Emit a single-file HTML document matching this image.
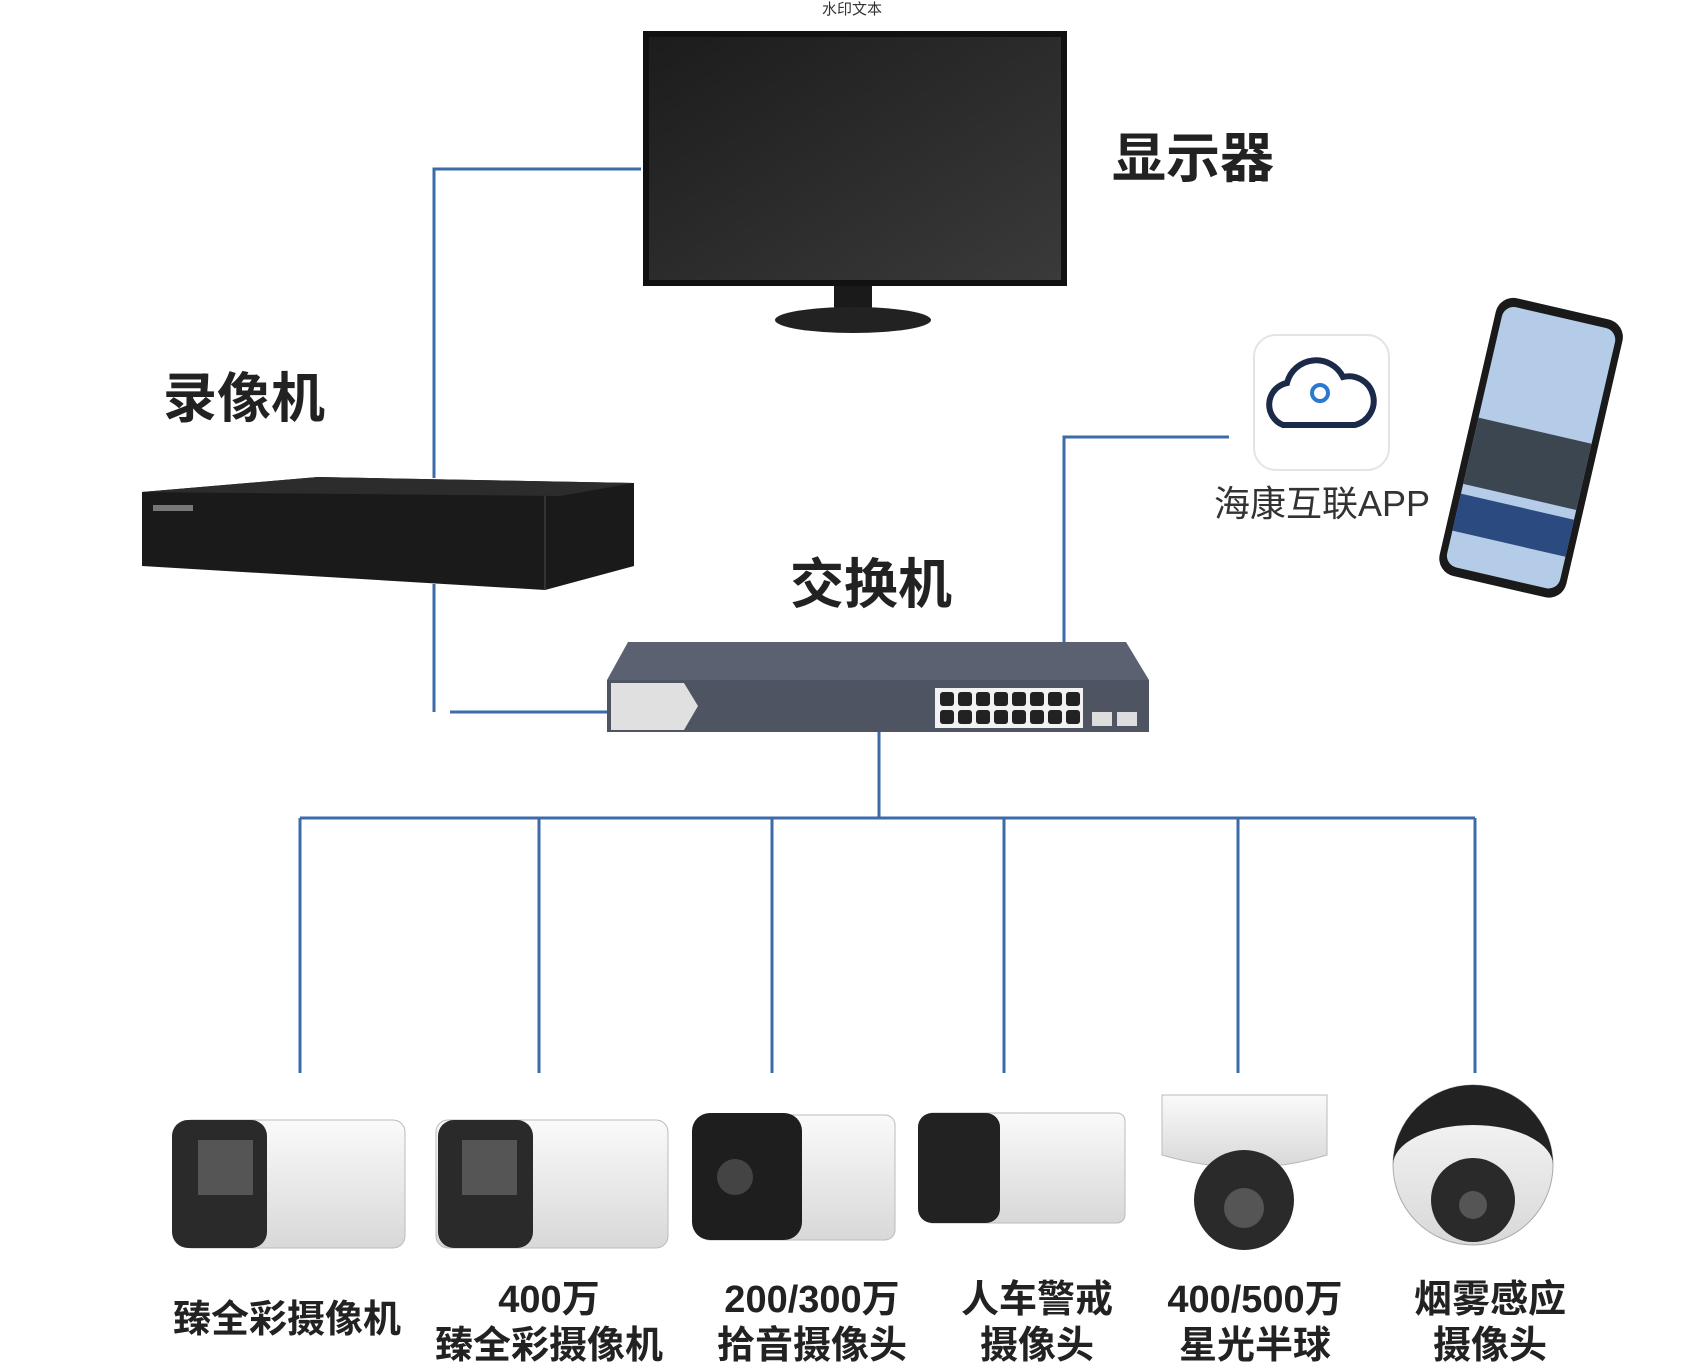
<!DOCTYPE html>
<html><head><meta charset="utf-8"><style>
body{margin:0;width:1704px;height:1371px;background:#fff;overflow:hidden;position:relative;font-family:"Liberation Sans","Noto Sans CJK SC",sans-serif}
.t{position:absolute;font-weight:bold;color:#222;white-space:nowrap;line-height:1}
.c{position:absolute;text-align:center;font-weight:bold;color:#222;font-size:38px;line-height:46px;transform:translateX(-50%);white-space:nowrap}
</style></head><body>
<svg width="1704" height="1371" style="position:absolute;left:0;top:0">
<defs>
<linearGradient id="mon" x1="0" y1="0" x2="1" y2="1"><stop offset="0" stop-color="#1c1c1c"/><stop offset="1" stop-color="#3a3a3a"/></linearGradient>
<linearGradient id="cam" x1="0" y1="0" x2="0" y2="1"><stop offset="0" stop-color="#fafafa"/><stop offset="1" stop-color="#d8d8d8"/></linearGradient>
</defs>
<g stroke="#3d6aa8" stroke-width="3" fill="none">
<polyline points="641,169 434,169 434,478"/>
<polyline points="434,584 434,712"/>
<line x1="450" y1="712" x2="608" y2="712"/>
<polyline points="1064,642 1064,437 1229,437"/>
<line x1="879" y1="732" x2="879" y2="818"/>
<line x1="300" y1="818" x2="1475" y2="818"/>
<line x1="300" y1="818" x2="300" y2="1073"/>
<line x1="539" y1="818" x2="539" y2="1073"/>
<line x1="772" y1="818" x2="772" y2="1073"/>
<line x1="1004" y1="818" x2="1004" y2="1073"/>
<line x1="1238" y1="818" x2="1238" y2="1073"/>
<line x1="1475" y1="818" x2="1475" y2="1073"/>
</g>
<!-- monitor -->
<rect x="643" y="31" width="424" height="255" fill="#111"/>
<rect x="649" y="37" width="412" height="243" fill="url(#mon)"/>
<rect x="834" y="286" width="38" height="24" fill="#1a1a1a"/>
<ellipse cx="853" cy="320" rx="78" ry="13" fill="#222"/>
<!-- recorder -->
<polygon points="142,492 318,477 634,483 634,566 545,590 142,566" fill="#1a1a1a"/>
<polygon points="142,492 318,477 634,483 560,496" fill="#2c2c2c"/>
<line x1="545" y1="496" x2="545" y2="590" stroke="#333" stroke-width="2"/>
<rect x="153" y="505" width="40" height="6" fill="#777"/>
<!-- switch -->
<polygon points="628,642 1126,642 1149,680 607,680" fill="#5b6170"/>
<rect x="607" y="680" width="542" height="52" fill="#4e5462"/>
<polygon points="611,683 684,683 698,706 684,730 611,730" fill="#e0e0e0"/>
<rect x="935" y="688" width="148" height="40" fill="#f2f2f2"/>
<g fill="#222">
<rect x="940" y="692" width="14" height="14" rx="3"/><rect x="958" y="692" width="14" height="14" rx="3"/><rect x="976" y="692" width="14" height="14" rx="3"/><rect x="994" y="692" width="14" height="14" rx="3"/><rect x="1012" y="692" width="14" height="14" rx="3"/><rect x="1030" y="692" width="14" height="14" rx="3"/><rect x="1048" y="692" width="14" height="14" rx="3"/><rect x="1066" y="692" width="14" height="14" rx="3"/>
<rect x="940" y="710" width="14" height="14" rx="3"/><rect x="958" y="710" width="14" height="14" rx="3"/><rect x="976" y="710" width="14" height="14" rx="3"/><rect x="994" y="710" width="14" height="14" rx="3"/><rect x="1012" y="710" width="14" height="14" rx="3"/><rect x="1030" y="710" width="14" height="14" rx="3"/><rect x="1048" y="710" width="14" height="14" rx="3"/><rect x="1066" y="710" width="14" height="14" rx="3"/>
</g>
<rect x="1092" y="712" width="20" height="14" fill="#ddd"/><rect x="1117" y="712" width="20" height="14" fill="#ddd"/>
<!-- app icon -->
<rect x="1254" y="335" width="135" height="135" rx="22" fill="#fff" stroke="#e4e4e4" stroke-width="2"/>
<path d="M1283,425 a22,22 0 0 1 4,-42 a30,30 0 0 1 56,-6 a24,24 0 0 1 12,48 z" fill="none" stroke="#1c2a4a" stroke-width="6"/>
<circle cx="1320" cy="393" r="8" fill="none" stroke="#2b78d0" stroke-width="4"/>
<!-- phone -->
<g transform="rotate(13 1530 448)">
<rect x="1466" y="305" width="130" height="285" rx="18" fill="#1a1a1a"/>
<rect x="1473" y="314" width="116" height="267" rx="12" fill="#b5cce8"/>
<rect x="1473" y="430" width="116" height="68" fill="#3c4650"/>
<rect x="1473" y="508" width="116" height="38" fill="#2a4a80"/>
</g>
<!-- cameras -->
<g>
<rect x="180" y="1120" width="225" height="128" rx="12" fill="url(#cam)" stroke="#bbb"/>
<rect x="172" y="1120" width="95" height="128" rx="16" fill="#2a2a2a"/>
<rect x="198" y="1140" width="55" height="55" fill="#555"/>
<rect x="436" y="1120" width="232" height="128" rx="12" fill="url(#cam)" stroke="#bbb"/>
<rect x="438" y="1120" width="95" height="128" rx="16" fill="#2a2a2a"/>
<rect x="462" y="1140" width="55" height="55" fill="#555"/>
<rect x="700" y="1115" width="195" height="125" rx="10" fill="url(#cam)" stroke="#bbb"/>
<rect x="692" y="1113" width="110" height="127" rx="18" fill="#1e1e1e"/>
<circle cx="735" cy="1177" r="18" fill="#444"/>
<rect x="925" y="1113" width="200" height="110" rx="8" fill="url(#cam)" stroke="#bbb"/>
<rect x="918" y="1113" width="82" height="110" rx="14" fill="#222"/>
<path d="M1162,1095 h165 v60 q-80,25 -165,0 z" fill="url(#cam)" stroke="#bbb"/>
<circle cx="1244" cy="1200" r="50" fill="#2a2a2a"/>
<circle cx="1244" cy="1208" r="20" fill="#555"/>
<circle cx="1473" cy="1165" r="80" fill="url(#cam)" stroke="#aaa"/>
<path d="M1393,1165 a80,80 0 0 1 160,0 a80,40 0 0 0 -160,0z" fill="#222"/>
<circle cx="1473" cy="1200" r="42" fill="#2a2a2a"/>
<circle cx="1473" cy="1205" r="14" fill="#555"/>
</g>
</svg>
<div class="t" style="left:822px;top:2px;font-size:15px;font-weight:normal;color:#333">水印文本</div>
<div class="t" style="left:1112px;top:132px;font-size:54px">显示器</div>
<div class="t" style="left:163px;top:372px;font-size:54px">录像机</div>
<div class="t" style="left:790px;top:558px;font-size:54px">交换机</div>
<div class="t" style="left:1214px;top:486px;font-size:36px;font-weight:normal;color:#333">海康互联APP</div>
<div class="c" style="left:287px;top:1297px">臻全彩摄像机</div>
<div class="c" style="left:549px;top:1277px">400万<br>臻全彩摄像机</div>
<div class="c" style="left:812px;top:1277px">200/300万<br>拾音摄像头</div>
<div class="c" style="left:1037px;top:1277px">人车警戒<br>摄像头</div>
<div class="c" style="left:1255px;top:1277px">400/500万<br>星光半球</div>
<div class="c" style="left:1490px;top:1277px">烟雾感应<br>摄像头</div>
</body></html>
